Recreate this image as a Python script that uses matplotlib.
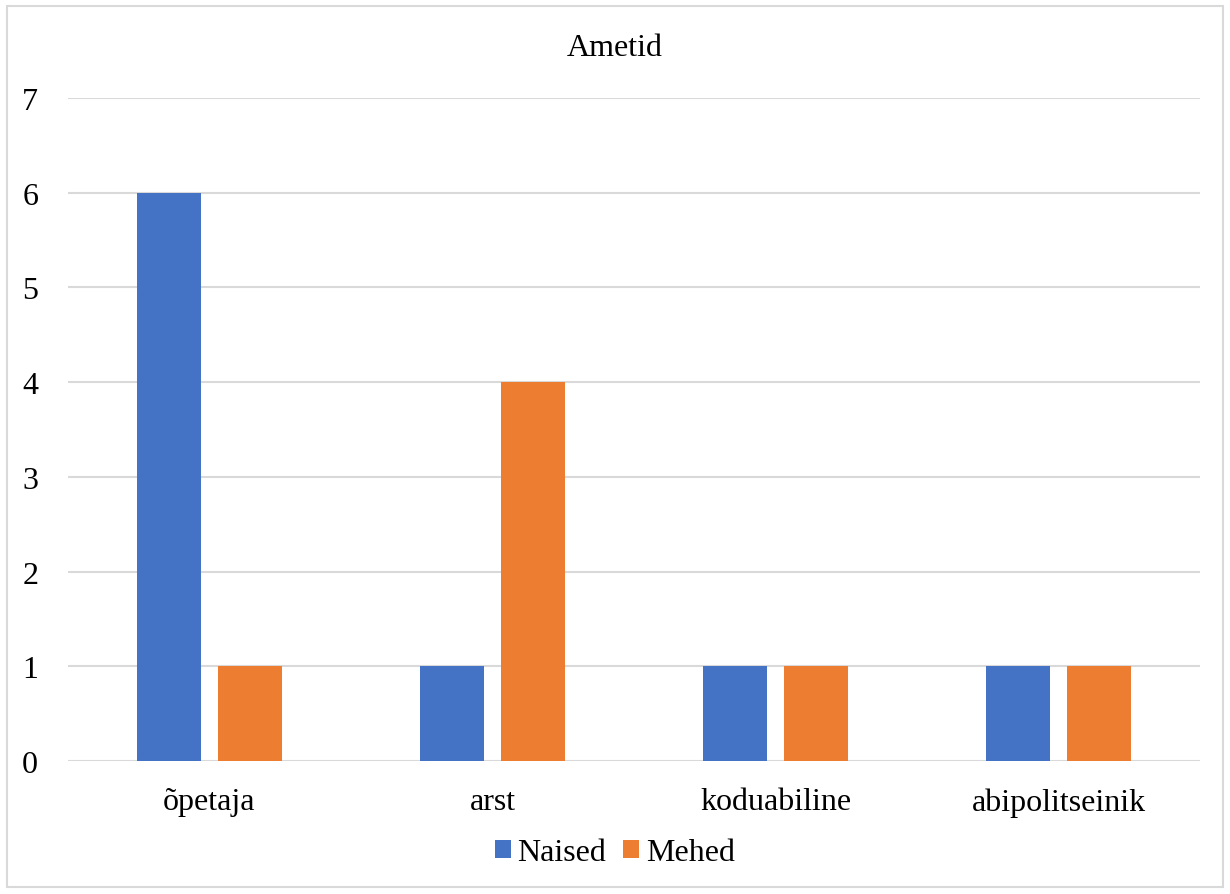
import matplotlib.pyplot as plt
from matplotlib.patches import Rectangle
import numpy as np

categories = ["õpetaja", "arst", "koduabiline", "abipolitseinik"]
naised = [6, 1, 1, 1]
mehed = [1, 4, 1, 1]
series_names = ["Naised", "Mehed"]
title = "Ametid"
yticks = [0, 1, 2, 3, 4, 5, 6, 7]

BLUE = "#4472C4"
ORANGE = "#ED7D31"
GRID = "#D9D9D9"

plt.rcParams["font.family"] = ["Liberation Serif", "DejaVu Serif"]

W, H = 1230, 895
fig = plt.figure(figsize=(W / 100, H / 100), dpi=100)

# Chart-area frame
fig.patches.append(Rectangle((7 / W, 7 / H), (W - 14) / W, (H - 14) / H,
                             transform=fig.transFigure, fill=False,
                             edgecolor=GRID, linewidth=1.5))

ax = fig.add_axes([68 / W, 1 - 762 / H, (1200 - 68) / W, (762 - 99) / H])

x = np.arange(len(categories))
width = 0.226
offset = 0.143
ax.bar(x - offset, naised, width, color=BLUE, label=series_names[0], zorder=3)
ax.bar(x + offset, mehed, width, color=ORANGE, label=series_names[1], zorder=3)

ax.set_xlim(-0.5, len(categories) - 0.5)
ax.set_ylim(0, 7)
ax.set_yticks(yticks)
ax.set_xticks(x)
ax.set_xticklabels(categories)
ax.tick_params(axis="both", length=0, labelsize=23, colors="black")
ax.tick_params(axis="y", pad=21.5)
ax.tick_params(axis="x", pad=19)
ax.yaxis.grid(True, color=GRID, linewidth=1.5, zorder=0)
for s in ax.spines.values():
    s.set_visible(False)

fig.text(0.5, 1 - 48 / H, title, ha="center", va="center", fontsize=23)

handles, labels = ax.get_legend_handles_labels()
fig.legend(handles, labels, loc="center", bbox_to_anchor=(0.5, 1 - 854 / H),
           ncol=2, frameon=False, fontsize=23, handlelength=0.5,
           handleheight=0.5, handletextpad=0.22, columnspacing=0.53)

fig.savefig("out.png", dpi=100)
